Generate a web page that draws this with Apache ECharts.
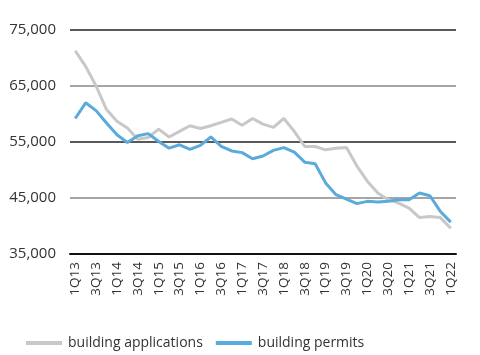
<!DOCTYPE html>
<html><head><meta charset="utf-8">
<script src="https://cdn.jsdelivr.net/npm/echarts@6/dist/echarts.min.js"></script>
<style>html,body{margin:0;padding:0;background:#fff}#c{width:480px;height:355px}</style>
</head><body><div id="c"></div>
<script>
var categories = ['1Q13','2Q13','3Q13','4Q13','1Q14','2Q14','3Q14','4Q14','1Q15','2Q15','3Q15','4Q15','1Q16','2Q16','3Q16','4Q16','1Q17','2Q17','3Q17','4Q17','1Q18','2Q18','3Q18','4Q18','1Q19','2Q19','3Q19','4Q19','1Q20','2Q20','3Q20','4Q20','1Q21','2Q21','3Q21','4Q21','1Q22'];
var applications = [71300,68500,65000,60800,58700,57500,55500,55800,57300,55900,56900,57900,57400,57900,58500,59100,58000,59200,58200,57600,59200,56900,54200,54200,53600,53900,54000,50700,48000,45900,44700,44100,43200,41500,41700,41500,39600];
var permits = [59200,62000,60600,58400,56300,54900,56100,56500,55100,53900,54500,53700,54400,55900,54200,53400,53100,52000,52500,53500,54000,53200,51400,51100,47700,45600,44800,44000,44400,44300,44400,44700,44700,45900,45400,42600,40700];
var yTicks = [35000,45000,55000,65000,75000];
var names = ['building applications','building permits'];
var font = '"Open Sans", "Noto Sans", sans-serif';
var chart = echarts.init(document.getElementById('c'));
chart.setOption({
  animation:false,
  grid:{left:70,right:24,top:30,bottom:101},
  legend:{top:331,left:21,itemGap:13,itemWidth:36,itemHeight:4,icon:'rect',
    textStyle:{fontFamily:font,fontSize:14,color:'#333',padding:[0,0,0,1]},
    data:names},
  xAxis:{type:'category',data:categories,boundaryGap:true,
    axisLine:{lineStyle:{color:'#111',width:2}},axisTick:{show:false},
    axisLabel:{rotate:90,interval:1,fontFamily:font,fontSize:13.5,color:'#333',margin:8}},
  yAxis:{type:'value',min:yTicks[0],max:yTicks[yTicks.length-1],interval:10000,
    axisLine:{show:false},axisTick:{show:false},
    axisLabel:{fontFamily:font,fontSize:15,color:'#333',margin:14,
      formatter:function(v){return v.toLocaleString('en-US');}},
    splitLine:{lineStyle:{color:['#222','#888'],width:1.5}}},
  series:[
    {name:names[0],type:'line',data:applications,symbol:'none',color:'#c8c8c8',lineStyle:{width:3,color:'#c8c8c8'},z:2},
    {name:names[1],type:'line',data:permits,symbol:'none',color:'#5aabdb',lineStyle:{width:3,color:'#5aabdb'},z:3}
  ]
});
</script></body></html>
